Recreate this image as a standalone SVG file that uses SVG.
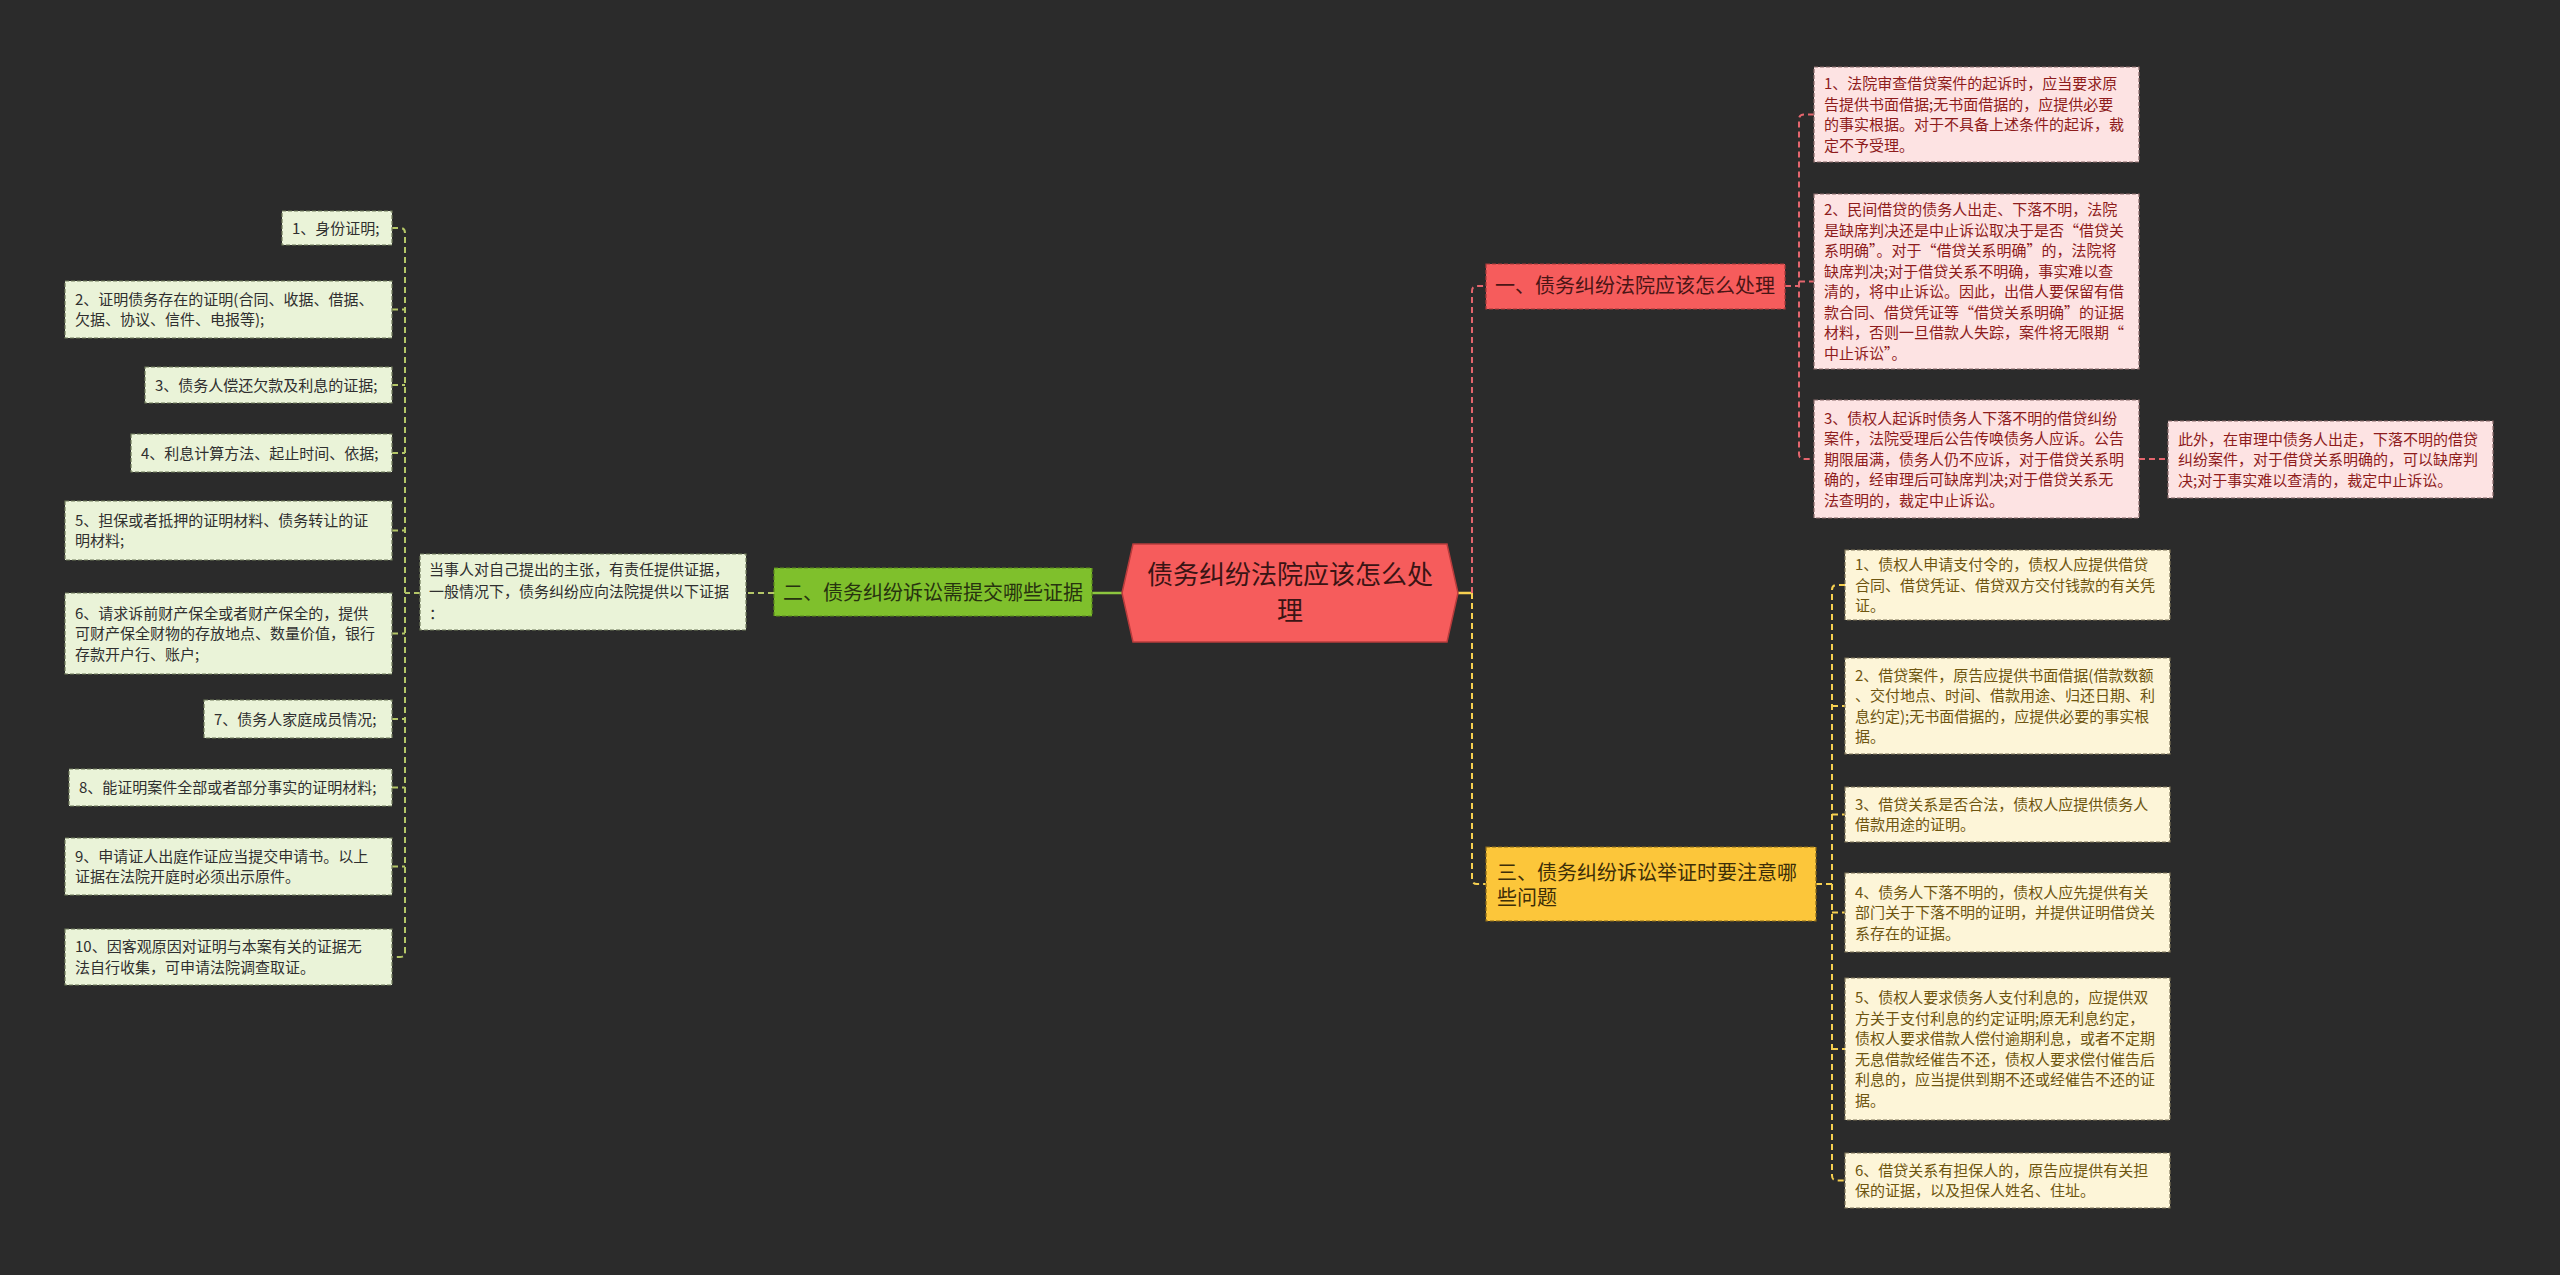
<svg xmlns="http://www.w3.org/2000/svg" width="2560" height="1275" viewBox="0 0 2560 1275">
<style>
  text { font-family: "Microsoft YaHei", "Noto Sans CJK SC", "Noto Sans", sans-serif; }
  .leafG { fill: #eaf3d8; stroke: #6f7a5a; stroke-width: 1.2; stroke-dasharray: 4 2; }
  .leafR { fill: #fde3e3; stroke: #8a6a6a; stroke-width: 1.2; stroke-dasharray: 4 2; }
  .leafY { fill: #fdf5d8; stroke: #7f7558; stroke-width: 1.2; stroke-dasharray: 4 2; }
  .tG { font-size: 15px; fill: #2f2f2f; }
  .tR { font-size: 15px; fill: #8e1c1c; }
  .tY { font-size: 15px; fill: #6e5510; }
  .br { font-size: 20px; }
  .cG { fill: none; stroke: #b4c667; stroke-width: 2; stroke-dasharray: 6 4; }
  .cR { fill: none; stroke: #e4656d; stroke-width: 2; stroke-dasharray: 6 4; }
  .cY { fill: none; stroke: #f6d050; stroke-width: 2; stroke-dasharray: 6 4; }
</style>
<rect x="0" y="0" width="2560" height="1275" fill="#2b2b2b"/>

<g id="connectors">
  <!-- center to left branch -->
  <line x1="1122" y1="593" x2="1092" y2="593" stroke="#8cc63f" stroke-width="2.5"/>
  <path class="cG" d="M774 593 H746"/>
  <path class="cG" d="M420 593 H405"/>
  <path class="cG" d="M392 228 H400 Q405 228 405 233 V952 Q405 957 400 957 H392"/>
  <path class="cG" d="M392 309.5 H405 M392 385 H405 M392 453 H405 M392 530.5 H405 M392 633.5 H405 M392 719 H405 M392 787.5 H405 M392 866.5 H405"/>
  <!-- center to right branches -->
  <line x1="1458" y1="593" x2="1472" y2="593" stroke="#f6d050" stroke-width="2.5"/>
  <path class="cR" d="M1472 593 V291 Q1472 286 1477 286 H1486"/>
  <path class="cY" d="M1472 593 V879 Q1472 884 1477 884 H1486"/>
  <!-- branch 1 children -->
  <path class="cR" d="M1785 286 H1799"/>
  <path class="cR" d="M1814 114.5 H1804 Q1799 114.5 1799 119.5 V454 Q1799 459 1804 459 H1814"/>
  <path class="cR" d="M1799 281.5 H1814"/>
  <path class="cR" d="M2139 459 H2168"/>
  <!-- branch 3 children -->
  <path class="cY" d="M1816 884 H1832"/>
  <path class="cY" d="M1845 585 H1837 Q1832 585 1832 590 V1175.5 Q1832 1180.5 1837 1180.5 H1845"/>
  <path class="cY" d="M1832 706 H1845 M1832 814.5 H1845 M1832 912.5 H1845 M1832 1049 H1845"/>
</g>

<g id="center">
  <polygon points="1122,593 1133,544 1447,544 1458,593 1447,642 1133,642" fill="#f65c5c" stroke="#b83c3c" stroke-width="1.5"/>
  <text x="1290" y="584" font-size="26" fill="#3a1414" text-anchor="middle">债务纠纷法院应该怎么处</text>
  <text x="1290" y="620" font-size="26" fill="#3a1414" text-anchor="middle">理</text>
</g>

<g id="branch2">
  <rect x="774" y="568" width="318" height="48" fill="#7fc02c" stroke="#5a8a1c" stroke-width="1.2" stroke-dasharray="4 2"/>
  <text class="br" x="933" y="600" fill="#27330f" text-anchor="middle">二、债务纠纷诉讼需提交哪些证据</text>
</g>
<g id="intro">
  <rect x="420" y="554" width="326" height="76" class="leafG"/>
  <text class="tG" x="429"><tspan x="429" y="575">当事人对自己提出的主张，有责任提供证据，</tspan><tspan x="429" y="597">一般情况下，债务纠纷应向法院提供以下证据</tspan><tspan x="429" y="619">：</tspan></text>
</g>

<g id="g1"><rect x="282" y="211" width="110" height="34" class="leafG"/><text class="tG" x="292" y="233.5">1、身份证明;</text></g>
<g id="g2"><rect x="65" y="281" width="327" height="57" class="leafG"/><text class="tG"><tspan x="75" y="304.75">2、证明债务存在的证明(合同、收据、借据、</tspan><tspan x="75" dy="20.5">欠据、协议、信件、电报等);</tspan></text></g>
<g id="g3"><rect x="145" y="367" width="247" height="36" class="leafG"/><text class="tG" x="155" y="390.5">3、债务人偿还欠款及利息的证据;</text></g>
<g id="g4"><rect x="131" y="434" width="261" height="38" class="leafG"/><text class="tG" x="141" y="458.5">4、利息计算方法、起止时间、依据;</text></g>
<g id="g5"><rect x="65" y="501" width="327" height="59" class="leafG"/><text class="tG"><tspan x="75" y="525.75">5、担保或者抵押的证明材料、债务转让的证</tspan><tspan x="75" dy="20.5">明材料;</tspan></text></g>
<g id="g6"><rect x="65" y="593" width="327" height="81" class="leafG"/><text class="tG"><tspan x="75" y="618.5">6、请求诉前财产保全或者财产保全的，提供</tspan><tspan x="75" dy="20.5">可财产保全财物的存放地点、数量价值，银行</tspan><tspan x="75" dy="20.5">存款开户行、账户;</tspan></text></g>
<g id="g7"><rect x="204" y="700" width="188" height="38" class="leafG"/><text class="tG" x="214" y="724.5">7、债务人家庭成员情况;</text></g>
<g id="g8"><rect x="69" y="769" width="323" height="37" class="leafG"/><text class="tG" x="79" y="793">8、能证明案件全部或者部分事实的证明材料;</text></g>
<g id="g9"><rect x="65" y="838" width="327" height="57" class="leafG"/><text class="tG"><tspan x="75" y="861.75">9、申请证人出庭作证应当提交申请书。以上</tspan><tspan x="75" dy="20.5">证据在法院开庭时必须出示原件。</tspan></text></g>
<g id="g10"><rect x="65" y="929" width="327" height="56" class="leafG"/><text class="tG"><tspan x="75" y="952.25">10、因客观原因对证明与本案有关的证据无</tspan><tspan x="75" dy="20.5">法自行收集，可申请法院调查取证。</tspan></text></g>

<g id="branch1">
  <rect x="1486" y="264" width="299" height="45" fill="#f65c5c" stroke="#a83a3a" stroke-width="1.2" stroke-dasharray="4 2"/>
  <text class="br" x="1635" y="293" fill="#4a1515" text-anchor="middle">一、债务纠纷法院应该怎么处理</text>
</g>
<g id="r1"><rect x="1814" y="67" width="325" height="95" class="leafR"/><text class="tR"><tspan x="1824" y="89.25">1、法院审查借贷案件的起诉时，应当要求原</tspan><tspan x="1824" dy="20.5">告提供书面借据;无书面借据的，应提供必要</tspan><tspan x="1824" dy="20.5">的事实根据。对于不具备上述条件的起诉，裁</tspan><tspan x="1824" dy="20.5">定不予受理。</tspan></text></g>
<g id="r2"><rect x="1814" y="194" width="325" height="175" class="leafR"/><text class="tR"><tspan x="1824" y="215.25">2、民间借贷的债务人出走、下落不明，法院</tspan><tspan x="1824" dy="20.5">是缺席判决还是中止诉讼取决于是否“借贷关</tspan><tspan x="1824" dy="20.5">系明确”。对于“借贷关系明确”的，法院将</tspan><tspan x="1824" dy="20.5">缺席判决;对于借贷关系不明确，事实难以查</tspan><tspan x="1824" dy="20.5">清的，将中止诉讼。因此，出借人要保留有借</tspan><tspan x="1824" dy="20.5">款合同、借贷凭证等“借贷关系明确”的证据</tspan><tspan x="1824" dy="20.5">材料，否则一旦借款人失踪，案件将无限期“</tspan><tspan x="1824" dy="20.5">中止诉讼”。</tspan></text></g>
<g id="r3"><rect x="1814" y="400" width="325" height="118" class="leafR"/><text class="tR"><tspan x="1824" y="423.5">3、债权人起诉时债务人下落不明的借贷纠纷</tspan><tspan x="1824" dy="20.5">案件，法院受理后公告传唤债务人应诉。公告</tspan><tspan x="1824" dy="20.5">期限届满，债务人仍不应诉，对于借贷关系明</tspan><tspan x="1824" dy="20.5">确的，经审理后可缺席判决;对于借贷关系无</tspan><tspan x="1824" dy="20.5">法查明的，裁定中止诉讼。</tspan></text></g>
<g id="r3c"><rect x="2168" y="421" width="325" height="77" class="leafR"/><text class="tR"><tspan x="2178" y="444.5">此外，在审理中债务人出走，下落不明的借贷</tspan><tspan x="2178" dy="20.5">纠纷案件，对于借贷关系明确的，可以缺席判</tspan><tspan x="2178" dy="20.5">决;对于事实难以查清的，裁定中止诉讼。</tspan></text></g>

<g id="branch3">
  <rect x="1486" y="847" width="330" height="74" fill="#fcc63a" stroke="#8a6a1a" stroke-width="1.2" stroke-dasharray="4 2"/>
  <text class="br" fill="#3d2e08"><tspan x="1497" y="880">三、债务纠纷诉讼举证时要注意哪</tspan><tspan x="1497" y="905">些问题</tspan></text>
</g>
<g id="y1"><rect x="1845" y="550" width="325" height="70" class="leafY"/><text class="tY"><tspan x="1855" y="570">1、债权人申请支付令的，债权人应提供借贷</tspan><tspan x="1855" dy="20.5">合同、借贷凭证、借贷双方交付钱款的有关凭</tspan><tspan x="1855" dy="20.5">证。</tspan></text></g>
<g id="y2"><rect x="1845" y="658" width="325" height="96" class="leafY"/><text class="tY"><tspan x="1855" y="680.75">2、借贷案件，原告应提供书面借据(借款数额</tspan><tspan x="1855" dy="20.5">、交付地点、时间、借款用途、归还日期、利</tspan><tspan x="1855" dy="20.5">息约定);无书面借据的，应提供必要的事实根</tspan><tspan x="1855" dy="20.5">据。</tspan></text></g>
<g id="y3"><rect x="1845" y="787" width="325" height="55" class="leafY"/><text class="tY"><tspan x="1855" y="809.75">3、借贷关系是否合法，债权人应提供债务人</tspan><tspan x="1855" dy="20.5">借款用途的证明。</tspan></text></g>
<g id="y4"><rect x="1845" y="873" width="325" height="79" class="leafY"/><text class="tY"><tspan x="1855" y="897.5">4、债务人下落不明的，债权人应先提供有关</tspan><tspan x="1855" dy="20.5">部门关于下落不明的证明，并提供证明借贷关</tspan><tspan x="1855" dy="20.5">系存在的证据。</tspan></text></g>
<g id="y5"><rect x="1845" y="978" width="325" height="142" class="leafY"/><text class="tY"><tspan x="1855" y="1003.25">5、债权人要求债务人支付利息的，应提供双</tspan><tspan x="1855" dy="20.5">方关于支付利息的约定证明;原无利息约定，</tspan><tspan x="1855" dy="20.5">债权人要求借款人偿付逾期利息，或者不定期</tspan><tspan x="1855" dy="20.5">无息借款经催告不还，债权人要求偿付催告后</tspan><tspan x="1855" dy="20.5">利息的，应当提供到期不还或经催告不还的证</tspan><tspan x="1855" dy="20.5">据。</tspan></text></g>
<g id="y6"><rect x="1845" y="1153" width="325" height="55" class="leafY"/><text class="tY"><tspan x="1855" y="1175.75">6、借贷关系有担保人的，原告应提供有关担</tspan><tspan x="1855" dy="20.5">保的证据，以及担保人姓名、住址。</tspan></text></g>
</svg>
